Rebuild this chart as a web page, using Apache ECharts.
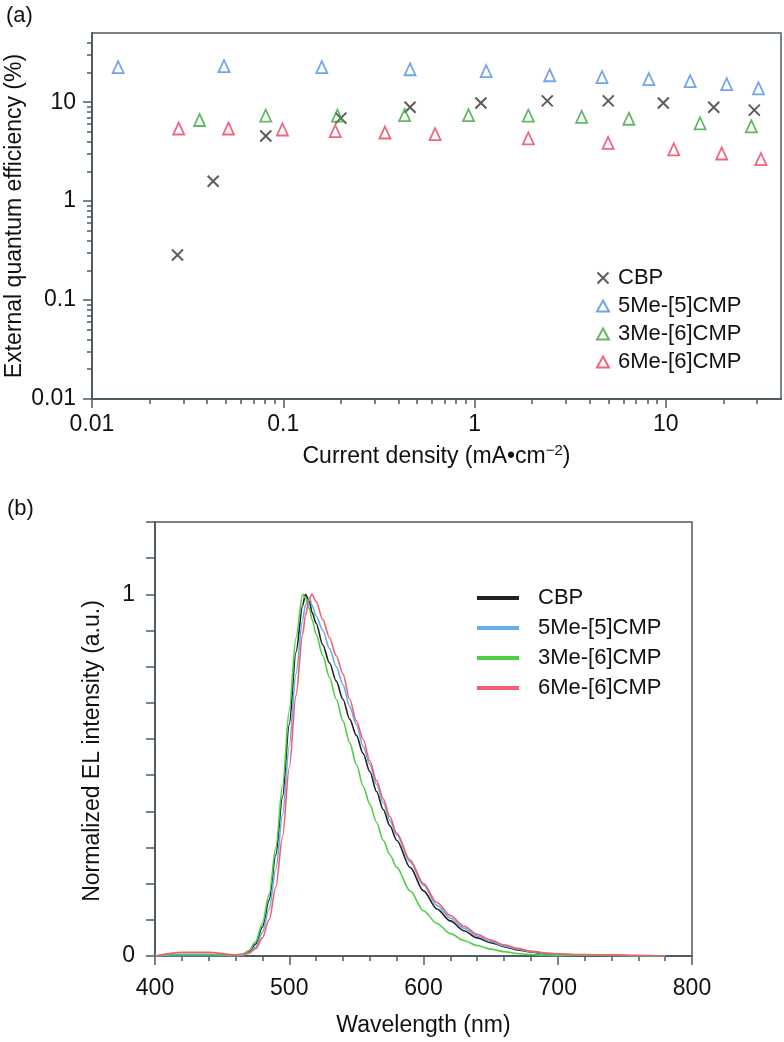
<!DOCTYPE html>
<html>
<head>
<meta charset="utf-8">
<script src="https://cdn.jsdelivr.net/npm/echarts@6/dist/echarts.min.js"></script>
<style>
  html, body { margin: 0; background: #fff; }
  #chart { width: 784px; height: 1042px; }
</style>
</head>
<body>
<div id="chart"></div>
<script>
// (a) EQE vs current density  (x: mA/cm2, y: %)
const cbpJ = [0.028, 0.043, 0.081, 0.20, 0.46, 1.08, 2.4, 5.0, 9.7, 17.8, 29];
const cbpEqe = [0.285, 1.59, 4.55, 6.9, 8.9, 9.8, 10.3, 10.3, 9.8, 8.9, 8.3];
const me5J = [0.0137, 0.049, 0.159, 0.46, 1.15, 2.47, 4.64, 8.15, 13.4, 20.8, 30.5];
const me5Eqe = [22.6, 23.1, 22.6, 21.5, 20.6, 18.7, 17.9, 17.1, 16.3, 15.2, 13.8];
const me3J = [0.0365, 0.081, 0.192, 0.431, 0.93, 1.91, 3.63, 6.41, 15.1, 28.0];
const me3Eqe = [6.6, 7.3, 7.3, 7.4, 7.4, 7.3, 7.1, 6.8, 6.1, 5.7];
const me6J = [0.0284, 0.0517, 0.099, 0.187, 0.34, 0.622, 1.91, 4.99, 11.0, 19.6, 31.4];
const me6Eqe = [5.42, 5.42, 5.3, 5.09, 4.94, 4.75, 4.3, 3.88, 3.33, 3.03, 2.66];

const decadeTicks = [0.01, 0.1, 1, 10];
const jMinorTicks = [0.02, 0.03, 0.04, 0.05, 0.06, 0.07, 0.08, 0.09, 0.2, 0.3, 0.4, 0.5, 0.6, 0.7, 0.8, 0.9,
  2, 3, 4, 5, 6, 7, 8, 9, 20, 30];
const eqeMinorTicks = [0.02, 0.03, 0.04, 0.05, 0.06, 0.07, 0.08, 0.09, 0.2, 0.3, 0.4, 0.5, 0.6, 0.7, 0.8, 0.9,
  2, 3, 4, 5, 6, 7, 8, 9, 20, 30, 40];

// (b) normalized EL spectra
const wl = [400, 420, 440, 460, 465, 470, 475, 480, 485, 490, 495, 500, 505, 510, 512, 515, 517, 520, 525, 530,
  535, 540, 545, 550, 555, 560, 565, 570, 575, 580, 590, 600, 610, 620, 630, 640, 650, 660, 670, 680,
  690, 700, 720, 740, 760, 780];
const cbpEl = [0, 0, 0, 0, 0.004, 0.012, 0.033, 0.08, 0.155, 0.28, 0.44, 0.64, 0.84, 0.97, 1.0, 0.98, 0.95, 0.92, 0.86, 0.81,
  0.76, 0.71, 0.655, 0.61, 0.56, 0.51, 0.455, 0.405, 0.36, 0.32, 0.245, 0.18, 0.13, 0.097, 0.07, 0.05, 0.037, 0.026, 0.017, 0.011,
  0.006, 0.004, 0.002, 0.001, 0, 0];
const me5El = [0, 0, 0, 0, 0.002, 0.008, 0.025, 0.065, 0.13, 0.24, 0.39, 0.58, 0.78, 0.93, 0.97, 0.99, 0.97, 0.94, 0.9, 0.85,
  0.8, 0.75, 0.69, 0.64, 0.58, 0.53, 0.475, 0.425, 0.375, 0.335, 0.26, 0.195, 0.14, 0.105, 0.077, 0.055, 0.04, 0.028, 0.019, 0.012,
  0.007, 0.004, 0.002, 0.001, 0, 0];
const me3El = [0, 0.005, 0.005, 0.002, 0.005, 0.015, 0.04, 0.09, 0.17, 0.3, 0.47, 0.68, 0.88, 1.0, 0.99, 0.96, 0.93, 0.89, 0.83, 0.77,
  0.71, 0.65, 0.59, 0.53, 0.47, 0.42, 0.37, 0.32, 0.28, 0.245, 0.18, 0.125, 0.09, 0.062, 0.043, 0.029, 0.019, 0.012, 0.007, 0.004,
  0.002, 0.001, 0.003, 0.002, 0, 0];
const me6El = [0, 0.01, 0.01, 0.003, 0.005, 0.008, 0.02, 0.05, 0.1, 0.19, 0.33, 0.52, 0.72, 0.89, 0.94, 0.99, 1.0, 0.98, 0.93, 0.88,
  0.83, 0.78, 0.71, 0.65, 0.6, 0.54, 0.485, 0.435, 0.385, 0.34, 0.265, 0.2, 0.148, 0.112, 0.083, 0.06, 0.044, 0.031, 0.021, 0.014,
  0.009, 0.006, 0.004, 0.003, 0.002, 0];

const FONT = '"Liberation Sans", Arial, Helvetica, sans-serif';
const AXIS = '#4e5b63';
const TXT = '#111';
const lg = (v) => Math.log10(v);
const zip = (xs, ys) => xs.map((x, i) => [x, ys[i]]);
const decadeLabel = (v) => String(Number(Math.pow(10, Math.round(v)).toPrecision(2)));

const lineAx = { onZero: false, lineStyle: { color: AXIS, width: 2 } };
const labelBase = { color: TXT, fontSize: 23, fontFamily: FONT };
const nameBase = { color: TXT, fontSize: 23, fontFamily: FONT };

// hidden log axes carry the scatter data, value axes (log10 space) draw ticks/labels
function logPair(dim, grid, min, max, minor, extra) {
  const pos = dim === 'x' ? 'bottom' : 'left';
  return [
    { type: 'log', gridIndex: grid, min, max, position: pos, show: false },
    Object.assign({
      type: 'value', gridIndex: grid, min: lg(min), max: lg(max), position: pos,
      axisLine: lineAx,
      axisTick: { customValues: decadeTicks.map(lg), length: 9, lineStyle: { color: AXIS, width: 1.5 } },
      splitLine: { show: false },
      nameMoveOverlap: false,
    }, extra),
    {
      type: 'value', gridIndex: grid, min: lg(min), max: lg(max), position: pos,
      axisLine: { show: false, onZero: false },
      axisTick: { customValues: minor.map(lg), length: 5, lineStyle: { color: AXIS, width: 1.5 } },
      axisLabel: { show: false },
      splitLine: { show: false },
    },
  ];
}

const xAxes = logPair('x', 0, 0.01, 40, jMinorTicks, {
  axisLabel: Object.assign({ customValues: decadeTicks.map(lg), formatter: decadeLabel, margin: 14 }, labelBase),
  name: '{t|Current density (mA•cm}{s|−2}{t|)}',
  nameLocation: 'middle',
  nameGap: 44,
  nameTextStyle: {
    rich: {
      t: nameBase,
      s: { color: TXT, fontSize: 15, fontFamily: FONT, padding: [0, 0, 13, 0] },
    },
  },
});
xAxes.push({
  type: 'value', gridIndex: 1, min: 400, max: 800, interval: 100, position: 'bottom',
  axisLine: lineAx,
  axisTick: { length: 9, lineStyle: { color: AXIS, width: 1.5 } },
  minorTick: { show: true, splitNumber: 5, length: 5, lineStyle: { color: AXIS, width: 1.5 } },
  axisLabel: Object.assign({ margin: 21 }, labelBase),
  splitLine: { show: false },
  minorSplitLine: { show: false },
  name: 'Wavelength (nm)',
  nameLocation: 'middle',
  nameGap: 58,
  nameMoveOverlap: false,
  nameTextStyle: nameBase,
});

const yAxes = logPair('y', 0, 0.01, 50, eqeMinorTicks, {
  axisLabel: Object.assign({ customValues: decadeTicks.map(lg), formatter: decadeLabel, margin: 16 }, labelBase),
  name: 'External quantum efficiency (%)',
  nameLocation: 'middle',
  nameGap: 66,
  nameTextStyle: nameBase,
});
yAxes.push({
  type: 'value', gridIndex: 1, min: 0, max: 1.2, interval: 0.1, position: 'left',
  axisLine: lineAx,
  axisTick: { length: 9, lineStyle: { color: AXIS, width: 1.5 } },
  axisLabel: Object.assign({
    margin: 20,
    formatter: (v) => Math.abs(v) < 1e-9 ? '0' : (Math.abs(v - 1) < 1e-9 ? '1' : ''),
  }, labelBase),
  splitLine: { show: false },
  name: 'Normalized EL intensity (a.u.)',
  nameLocation: 'middle',
  nameGap: 51,
  nameMoveOverlap: false,
  nameTextStyle: Object.assign({ padding: [0, 24, 0, 0] }, nameBase),
});

const tri = (name, xs, ys, color) => ({
  name, type: 'scatter', xAxisIndex: 0, yAxisIndex: 0,
  symbol: 'triangle', symbolSize: [11, 12],
  itemStyle: { color: 'rgba(255,255,255,0)', borderColor: color, borderWidth: 1.8 },
  data: zip(xs, ys),
});
const spec = (name, ys, color) => ({
  name, type: 'line', xAxisIndex: 3, yAxisIndex: 3,
  symbol: 'none', smooth: 0.3, smoothMonotone: 'x',
  lineStyle: { color, width: 1.6 },
  itemStyle: { color },
  data: zip(wl, ys),
});

const chart = echarts.init(document.getElementById('chart'), null, { renderer: 'canvas' });
chart.setOption({
  animation: false,
  backgroundColor: '#fff',
  textStyle: { fontFamily: FONT },
  title: [
    { text: '(a)', left: 1, top: 0, textStyle: { color: TXT, fontSize: 22, fontWeight: 'normal', fontFamily: FONT } },
    { text: '(b)', left: 2, top: 493, textStyle: { color: TXT, fontSize: 22, fontWeight: 'normal', fontFamily: FONT } },
  ],
  grid: [
    { left: 92, top: 33, width: 689, height: 366, show: true, borderColor: AXIS, borderWidth: 1.5, outerBoundsMode: 'none' },
    { left: 155, top: 522, width: 537, height: 434, show: true, borderColor: AXIS, borderWidth: 1.5, outerBoundsMode: 'none' },
  ],
  xAxis: xAxes,
  yAxis: yAxes,
  legend: [
    {
      orient: 'vertical', left: 591, top: 262, itemWidth: 12, itemHeight: 11, itemGap: 6,
      selectedMode: false,
      textStyle: { color: TXT, fontSize: 22, lineHeight: 22, fontFamily: FONT, padding: [0, 0, 0, 4] },
      data: ['CBP', '5Me-[5]CMP', '3Me-[6]CMP', '6Me-[6]CMP'],
    },
    {
      orient: 'vertical', left: 472, top: 582, itemWidth: 42, itemHeight: 4, itemGap: 8,
      icon: 'rect',
      selectedMode: false,
      formatter: (n) => n.replace('b:', ''),
      textStyle: { color: TXT, fontSize: 22, lineHeight: 22, fontFamily: FONT, padding: [0, 0, 0, 14] },
      data: ['b:CBP', 'b:5Me-[5]CMP', 'b:3Me-[6]CMP', 'b:6Me-[6]CMP'],
    },
  ],
  series: [
    {
      name: 'CBP', type: 'scatter', xAxisIndex: 0, yAxisIndex: 0,
      symbol: 'path://M0,0L10,10M10,0L0,10', symbolSize: 11,
      itemStyle: { color: 'rgba(0,0,0,0)', borderColor: '#333', borderWidth: 2 },
      data: zip(cbpJ, cbpEqe),
    },
    tri('5Me-[5]CMP', me5J, me5Eqe, '#4d8ee6'),
    tri('3Me-[6]CMP', me3J, me3Eqe, '#38a638'),
    tri('6Me-[6]CMP', me6J, me6Eqe, '#ec3d5f'),
    spec('b:CBP', cbpEl, '#222222'),
    spec('b:5Me-[5]CMP', me5El, '#64aeea'),
    spec('b:3Me-[6]CMP', me3El, '#4fcf45'),
    spec('b:6Me-[6]CMP', me6El, '#f0606e'),
  ],
});
</script>
</body>
</html>
